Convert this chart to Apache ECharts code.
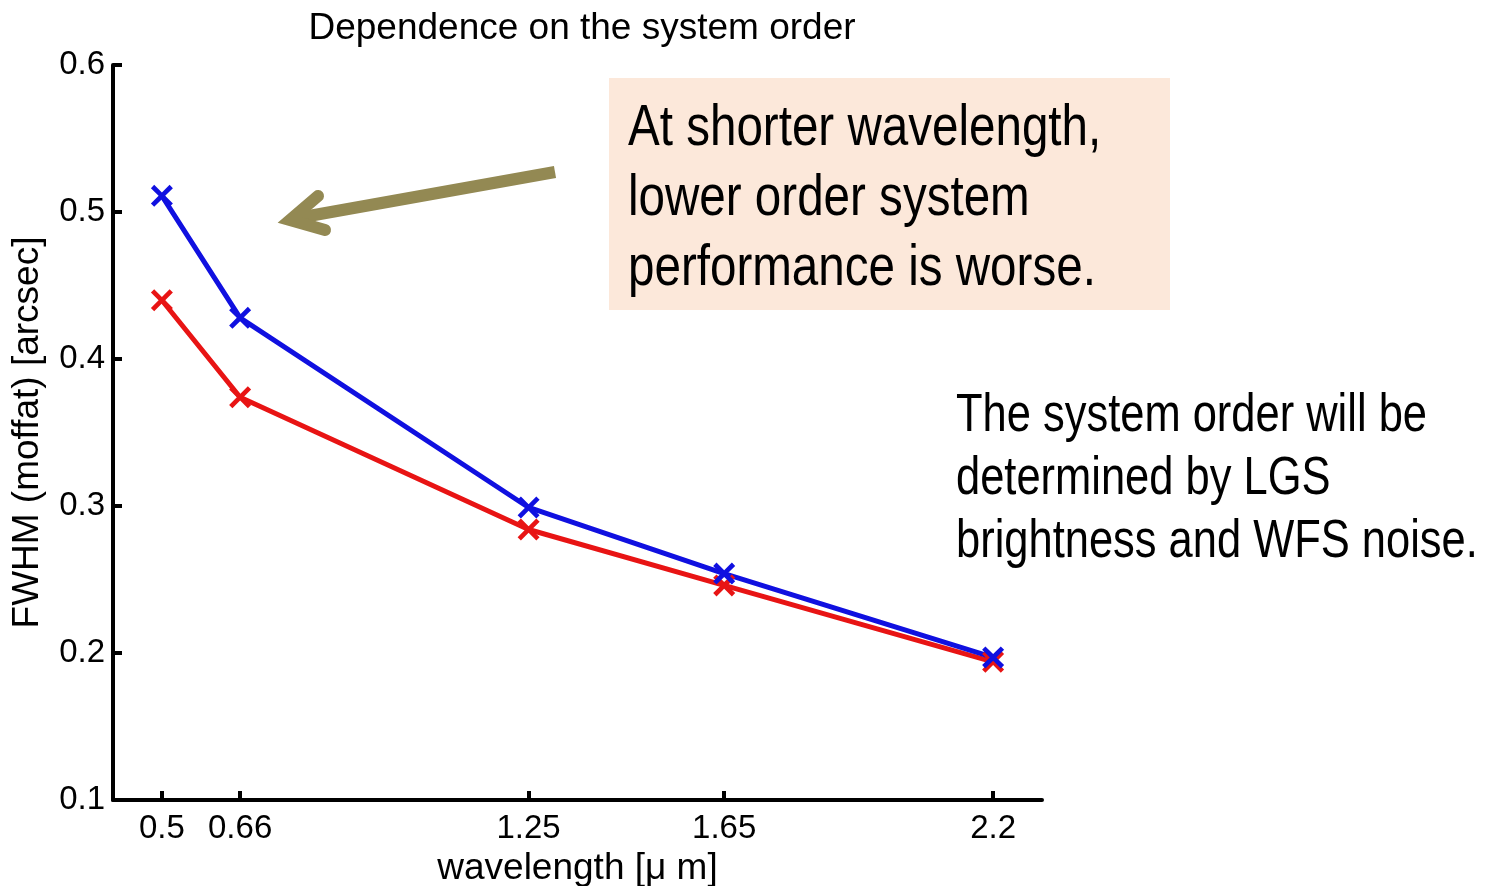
<!DOCTYPE html>
<html>
<head>
<meta charset="utf-8">
<title>Dependence on the system order</title>
<script src="https://cdn.jsdelivr.net/npm/echarts@6/dist/echarts.min.js"></script>
<style>
  html, body { margin: 0; padding: 0; background: #ffffff; }
  #chart { width: 1491px; height: 886px; }
</style>
</head>
<body>
<div id="chart"></div>
<script>
// Observing wavelengths [micron] and the FWHM of the Moffat fit [arcsec]
const wavelengths = [0.5, 0.66, 1.25, 1.65, 2.2];
const lowerOrderFwhm = [0.511, 0.428, 0.299, 0.254, 0.197];
const higherOrderFwhm = [0.440, 0.374, 0.284, 0.246, 0.194];
const yTicks = [0.1, 0.2, 0.3, 0.4, 0.5, 0.6];

const FONT = '"Liberation Sans", Arial, Helvetica, sans-serif';
// condensed look for the callout text: regular sans squeezed horizontally
const CONDENSE = 0.82;

// Filled "x" marker
const CROSS = 'path://M0,1.5L1.5,0L5,3.5L8.5,0L10,1.5L6.5,5L10,8.5L8.5,10L5,6.5L1.5,10L0,8.5L3.5,5Z';

function pairs(xs, ys) { return xs.map((x, i) => [x, ys[i]]); }

const chart = echarts.init(document.getElementById('chart'), null, { renderer: 'canvas' });

chart.setOption({
  backgroundColor: '#ffffff',
  animation: false,
  title: {
    text: 'Dependence on the system order',
    left: 577, top: 5, textAlign: 'center',
    textStyle: { fontFamily: FONT, fontSize: 37, fontWeight: 'normal', color: '#000' }
  },
  grid: { left: 113, top: 65, right: 449, bottom: 86, containLabel: false, outerBoundsMode: 'none' },
  xAxis: {
    type: 'value', min: 0.4, max: 2.3,
    name: 'wavelength [\u03bc m]', nameLocation: 'middle', nameGap: 45,
    nameTextStyle: { fontFamily: FONT, fontSize: 37, color: '#000' },
    axisLine: { show: true, lineStyle: { color: '#000', width: 4 } },
    axisTick: { show: true, inside: true, length: 9, lineStyle: { color: '#000', width: 4 }, customValues: wavelengths },
    axisLabel: { show: true, margin: 12, fontFamily: FONT, fontSize: 33, color: '#000', customValues: wavelengths,
                 formatter: v => String(v) },
    splitLine: { show: false }
  },
  yAxis: {
    type: 'value', min: 0.1, max: 0.6, interval: 0.1,
    name: 'FWHM (moffat) [arcsec]', nameLocation: 'middle', nameGap: 67,
    nameTextStyle: { fontFamily: FONT, fontSize: 37, color: '#000' },
    axisLine: { show: true, lineStyle: { color: '#000', width: 4 } },
    axisTick: { show: true, inside: true, length: 9, lineStyle: { color: '#000', width: 4 } },
    axisLabel: { show: true, margin: 8, fontFamily: FONT, fontSize: 33, color: '#000',
                 customValues: yTicks, formatter: v => v.toFixed(1) },
    splitLine: { show: false }
  },
  series: [
    {
      name: 'Higher order', type: 'line', data: pairs(wavelengths, higherOrderFwhm),
      symbol: CROSS, symbolSize: 22, showAllSymbol: true,
      lineStyle: { color: '#e81414', width: 5 },
      itemStyle: { color: '#e81414' }
    },
    {
      name: 'Lower order', type: 'line', data: pairs(wavelengths, lowerOrderFwhm),
      symbol: CROSS, symbolSize: 22, showAllSymbol: true,
      lineStyle: { color: '#1010e0', width: 5 },
      itemStyle: { color: '#1010e0' }
    }
  ],
  graphic: [
    {
      type: 'rect', shape: { x: 609, y: 78, width: 561, height: 232 },
      style: { fill: '#fce8da' }, z: 10
    },
    {
      type: 'text', x: 628, y: 94, scaleX: CONDENSE, z: 11,
      style: {
        text: 'At shorter wavelength,\nlower order system\nperformance is worse.',
        font: '58px ' + FONT, lineHeight: 70, fill: '#000', verticalAlign: 'top', align: 'left'
      }
    },
    {
      type: 'text', x: 956, y: 385, scaleX: CONDENSE, z: 11,
      style: {
        text: 'The system order will be\ndetermined by LGS\nbrightness and WFS noise.',
        font: '53px ' + FONT, lineHeight: 63, fill: '#000', verticalAlign: 'top', align: 'left'
      }
    },
    {
      type: 'polyline', z: 12,
      shape: { points: [[555, 172], [292, 219]] },
      style: { stroke: '#938953', lineWidth: 12, lineCap: 'butt', fill: null }
    },
    {
      type: 'polyline', z: 12,
      shape: { points: [[318, 196], [290, 220], [325, 230]] },
      style: { stroke: '#938953', lineWidth: 12, lineCap: 'round', lineJoin: 'miter', fill: null }
    }
  ]
});
</script>
</body>
</html>
